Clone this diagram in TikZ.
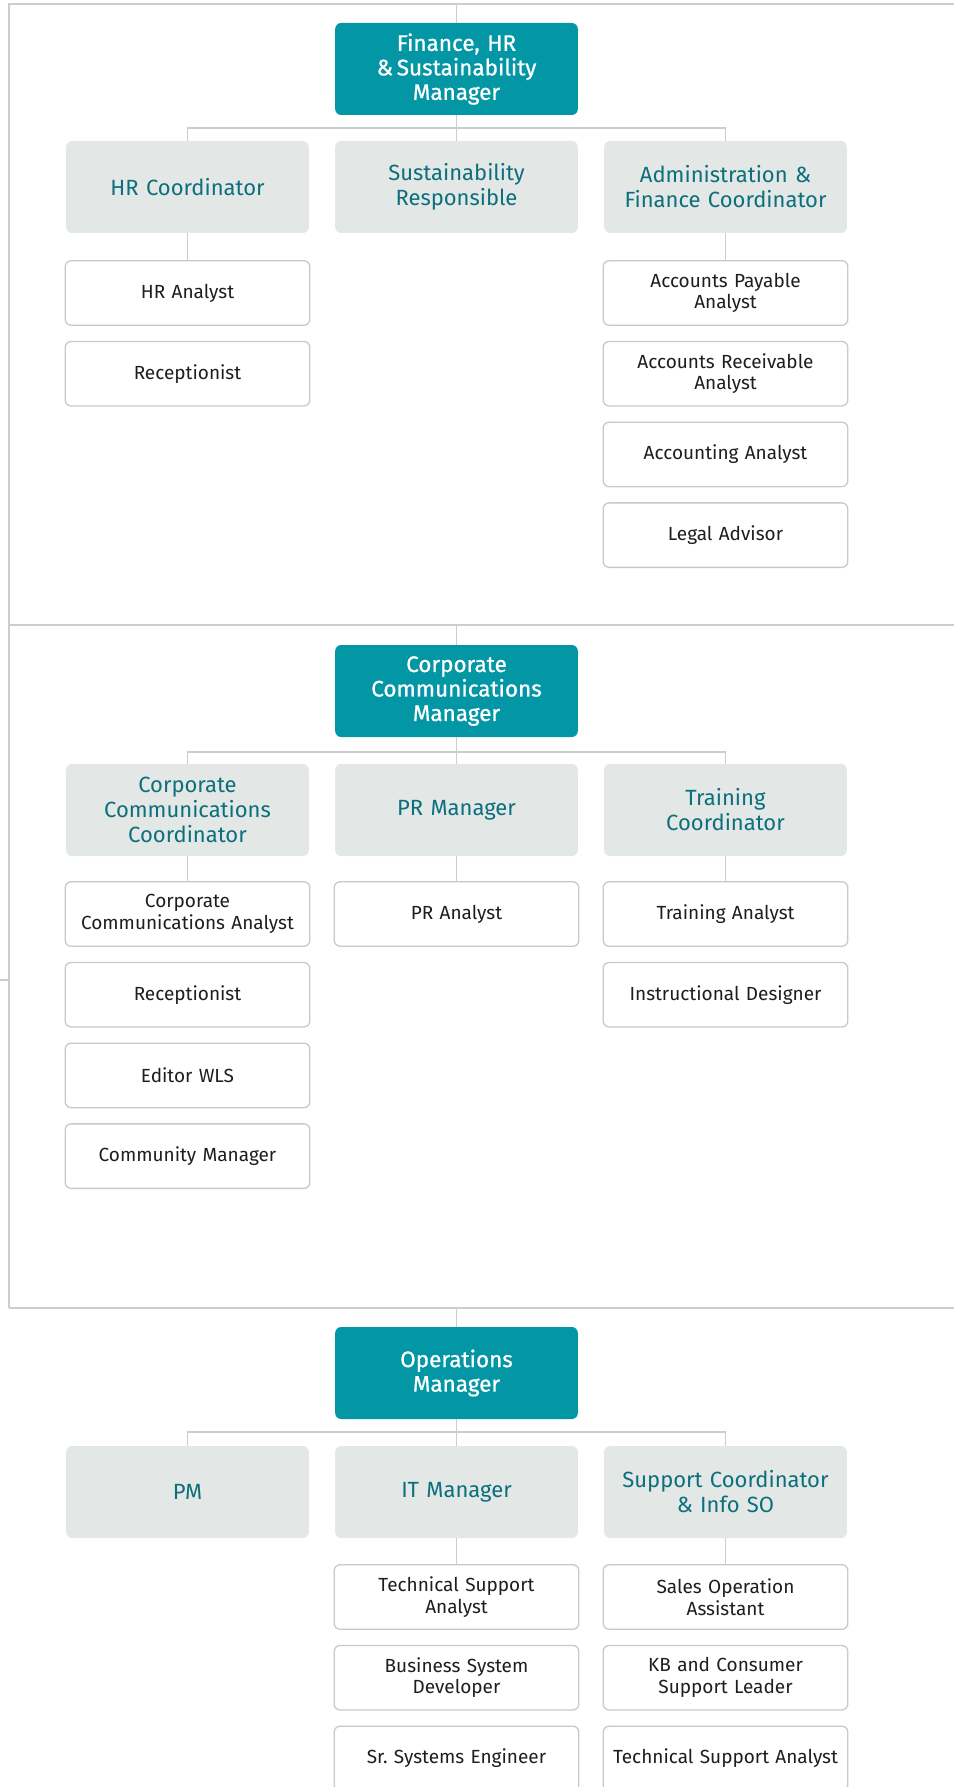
\documentclass[tikz,border=0pt]{standalone}
\usepackage{fontspec}
\setmainfont{Fira Sans}
\frenchspacing
\newfontfamily\mgrfont[FakeBold=0.8]{Fira Sans}
\definecolor{teal1}{HTML}{0396A5}
\definecolor{tealtext}{HTML}{0B6F7C}
\definecolor{greyfill}{HTML}{E3E7E6}
\definecolor{linegrey}{HTML}{CDCDD0}
\definecolor{boxline}{HTML}{C9C9CC}
\definecolor{darktext}{HTML}{1E1E1E}
\tikzset{
  mgr/.style={rectangle, rounded corners=6pt, fill=teal1, draw=none,
    minimum width=241pt, minimum height=92pt, text width=236pt, align=center,
    text=white, font=\mgrfont\fontsize{22.5}{24.5}\selectfont},
  coord/.style={rectangle, rounded corners=6pt, fill=greyfill, draw=none,
    minimum width=241pt, minimum height=92pt, text width=236pt, align=center,
    text=tealtext, font=\fontsize{22}{25}\selectfont},
  staff/.style={rectangle, rounded corners=6pt, fill=white, draw=boxline, line width=1.3pt,
    minimum width=239.5pt, minimum height=64.5pt, text width=238pt, align=center,
    text=darktext, font=\fontsize{19}{21.7}\selectfont},
  conn/.style={draw=linegrey, line width=1.4pt},
  frame/.style={draw=linegrey, line width=2pt},
}
\begin{document}
\begin{tikzpicture}[x=1pt,y=-1pt]
\useasboundingbox (0,0) rectangle (954,1787);
\clip (0,0) rectangle (954,1787);
% frame lines
\coordinate (ftl) at (8.5,4.5);
\coordinate (ftr) at (954,4.5);
\coordinate (fbl) at (8.5,1308);
\coordinate (d1l) at (8.5,625);
\coordinate (d1r) at (954,625);
\coordinate (d2r) at (954,1308);
\coordinate (tickl) at (0,980);
\coordinate (tickr) at (8.5,980);
\draw[frame] (ftr) -- (ftl) -- (fbl);
\draw[frame] (d1l) -- (d1r);
\draw[frame] (fbl) -- (d2r);
\draw[frame] (tickl) -- (tickr);

% ===== Section 1 =====
\node[mgr] (m1) at (456.5,69) {Finance, HR\\ \&\,Sustainability\\ Manager};
\node[coord] (c1a) at (187.5,187) {HR Coordinator};
\node[coord] (c1b) at (456.5,187) {Sustainability\\ Responsible};
\node[coord] (c1c) at (725.5,187) {Administration \&\\ Finance Coordinator};
\coordinate (s1top) at (456.5,4.5);
\coordinate (h1) at (456.5,128);
\draw[conn] (s1top) -- (m1.north);
\draw[conn] (m1.south) -- (c1b.north);
\draw[conn] (c1a.north) |- (h1) -| (c1c.north);

\node[staff] (a1) at (187.5,293) {HR Analyst};
\node[staff] (a2) at (187.5,373.7) {Receptionist};
\node[staff] (b1) at (725.5,293) {Accounts Payable\\ Analyst};
\node[staff] (b2) at (725.5,373.7) {Accounts Receivable\\ Analyst};
\node[staff] (b3) at (725.5,454.4) {Accounting Analyst};
\node[staff] (b4) at (725.5,535.1) {Legal Advisor};
\draw[conn] (c1a.south) -- (a1.north);
\draw[conn] (c1c.south) -- (b1.north);

% ===== Section 2 =====
\node[mgr] (m2) at (456.5,691) {Corporate\\ Communications\\ Manager};
\node[coord] (c2a) at (187.5,810) {Corporate\\ Communications\\ Coordinator};
\node[coord] (c2b) at (456.5,810) {PR Manager};
\node[coord] (c2c) at (725.5,810) {Training\\ Coordinator};
\coordinate (s2top) at (456.5,625);
\coordinate (h2) at (456.5,752);
\draw[conn] (s2top) -- (m2.north);
\draw[conn] (m2.south) -- (c2b.north);
\draw[conn] (c2a.north) |- (h2) -| (c2c.north);

\node[staff] (e1) at (187.5,914) {Corporate\\ Communications Analyst};
\node[staff] (e2) at (187.5,994.7) {Receptionist};
\node[staff] (e3) at (187.5,1075.4) {Editor WLS};
\node[staff] (e4) at (187.5,1156.1) {Community Manager};
\node[staff] (f1) at (456.5,914) {PR Analyst};
\node[staff] (g1) at (725.5,914) {Training Analyst};
\node[staff] (g2) at (725.5,994.7) {Instructional Designer};
\draw[conn] (c2a.south) -- (e1.north);
\draw[conn] (c2b.south) -- (f1.north);
\draw[conn] (c2c.south) -- (g1.north);

% ===== Section 3 =====
\node[mgr] (m3) at (456.5,1373) {Operations\\ Manager};
\node[coord] (c3a) at (187.5,1492) {PM};
\node[coord] (c3b) at (456.5,1492) {IT Manager};
\node[coord] (c3c) at (725.5,1492) {Support Coordinator\\ \& Info SO};
\coordinate (s3top) at (456.5,1308);
\coordinate (h3) at (456.5,1432);
\draw[conn] (s3top) -- (m3.north);
\draw[conn] (m3.south) -- (c3b.north);
\draw[conn] (c3a.north) |- (h3) -| (c3c.north);

\node[staff] (i1) at (456.5,1597) {Technical Support\\ Analyst};
\node[staff] (i2) at (456.5,1677.7) {Business System\\ Developer};
\node[staff] (i3) at (456.5,1758.4) {Sr. Systems Engineer};
\node[staff] (j1) at (725.5,1597) {Sales Operation\\ Assistant};
\node[staff] (j2) at (725.5,1677.7) {KB and Consumer\\ Support Leader};
\node[staff] (j3) at (725.5,1758.4) {Technical Support Analyst};
\draw[conn] (c3b.south) -- (i1.north);
\draw[conn] (c3c.south) -- (j1.north);
\end{tikzpicture}
\end{document}
